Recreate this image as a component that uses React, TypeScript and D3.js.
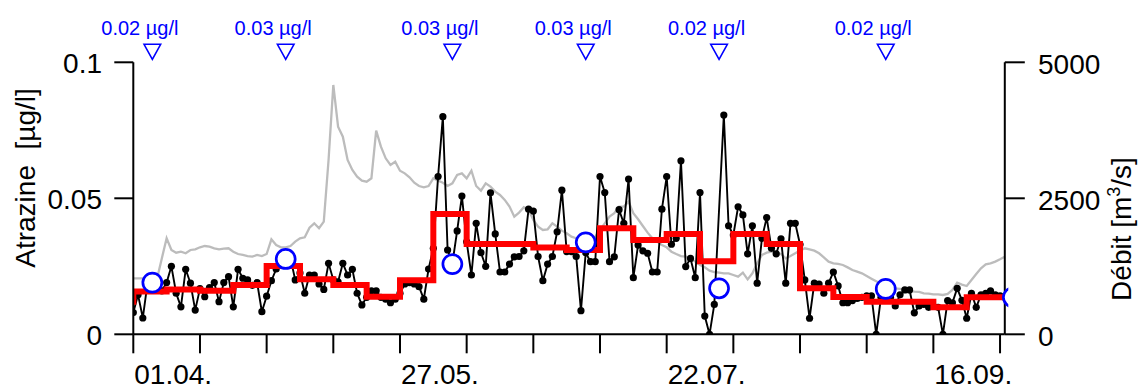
import React from "react";
import * as d3 from "d3";

// Daily atrazine concentration [µg/l], day 0 = 01.04. (null = no sample)
const atrazineDaily: (number | null)[] = [
  0.008, 0.0145, 0.006, 0.019, 0.021, 0.02, 0.016, 0.019, 0.025, 0.0151,
  0.0101, 0.0239, 0.0188, 0.0089, 0.0168, 0.0138, 0.0172, 0.019, 0.012, 0.019,
  0.0212, 0.0101, 0.0239, 0.0206, 0.02, 0.018, 0.019, 0.0083, 0.014, 0.0197,
  0.024, 0.028, 0.03, 0.028, 0.02, 0.0225, 0.0151, 0.0218, 0.0218, 0.0185,
  0.0165, 0.0261, 0.02, 0.0193, 0.0261, 0.0218, 0.0239, 0.0151, 0.0108, 0.0136,
  0.016, 0.016, 0.0136, 0.0129, 0.0116, 0.0129, 0.0151, 0.0185, 0.019, 0.0185,
  0.0175, 0.0129, 0.024, 0.0316, 0.058, 0.08, 0.031, 0.026, 0.038, 0.0508,
  0.034, 0.0218, 0.0408, 0.03, 0.025, 0.052, 0.0369, 0.0229, 0.0229, 0.0258,
  0.0285, 0.0286, 0.0307, 0.046, 0.0453, 0.0286, 0.0197, 0.0258, 0.0286, 0.0377,
  0.053, 0.0304, 0.0304, 0.0286, 0.0087, 0.03, 0.0267, 0.0267, 0.058, 0.0521,
  0.0267, 0.0285, 0.0458, 0.0408, 0.0571, 0.0208, 0.0328, 0.0307, 0.0298, 0.0229,
  0.0229, 0.046, 0.058, 0.0331, 0.0353, 0.0638, 0.0249, 0.0279, 0.0208, 0.0521,
  0.0067, 0.0, 0.011, null, 0.0806, 0.0399, 0.0365, 0.0469, 0.0439, 0.0296,
  0.0399, 0.0188, 0.0353, 0.0429, 0.0316, 0.0296, 0.0351, 0.0188, 0.0408, 0.0408,
  0.033, 0.02, 0.0059, 0.0188, 0.0185, 0.0151, 0.0188, 0.0229, 0.0178, 0.0116,
  0.0116, 0.0124, 0.0132, 0.0136, 0.0141, 0.0141, 0.0, 0.0136, 0.0145, 0.0136,
  0.0104, 0.0145, 0.0163, 0.0163, 0.0079, 0.0104, 0.011, 0.0099, 0.0104, 0.0099,
  0.0, 0.0124, 0.0116, 0.0169, 0.0125, 0.0059, 0.0151, 0.0099, 0.0145, 0.0151,
  0.016, 0.0145, 0.0141, 0.0136,
];

// Daily discharge [m3/s]
const dischargeDaily: number[] = [
  1029, 1029, 1029, 1029, 1029, 1029, 1400, 1765, 1550, 1500,
  1519, 1489, 1550, 1562, 1599, 1623, 1611, 1581, 1562, 1574,
  1581, 1519, 1476, 1458, 1439, 1427, 1458, 1439, 1476, 1746,
  1642, 1599, 1599, 1623, 1703, 1765, 1783, 1960, 2040, 1949,
  2070, 3204, 4583, 3816, 3633, 3204, 3020, 2898, 2824, 2806,
  2868, 3743, 3449, 3235, 3112, 3173, 3008, 2959, 2886, 2787,
  2726, 2702, 2726, 2868, 2824, 2787, 2726, 2775, 2928, 2959,
  2868, 3008, 2726, 2640, 2776, 2714, 2622, 2562, 2470, 2347,
  2163, 2237, 2335, 2286, 2102, 1979, 1918, 1930, 2040, 1979,
  1905, 1856, 1795, 1765, 1734, 1734, 1734, 1795, 1918, 2040,
  2163, 2225, 2347, 2347, 2439, 2225, 2114, 1991, 1869, 1765,
  1703, 1642, 1599, 1519, 1476, 1439, 1427, 1397, 1336, 1274,
  1231, 1170, 1145, 1133, 1121, 1121, 1090, 1059, 1133, 1010,
  1121, 1305, 1458, 1500, 1519, 1500, 1476, 1397, 1439, 1489,
  1538, 1581, 1562, 1538, 1489, 1415, 1336, 1305, 1293, 1274,
  1230, 1182, 1151, 1121, 1072, 1023, 974, 925, 888, 864,
  846, 833, 815, 803, 784, 778, 754, 748, 735, 735,
  723, 741, 815, 950, 913, 888, 999, 1109, 1213, 1286,
  1305, 1336, 1379, 1427,
];

// Weekly mean concentration; first value = week before 01.04., then weeks starting day 0, 7, 14 ...
const weeklyMeans: number[] = [
  0.012, 0.0157, 0.0165, 0.016, 0.0181, 0.0251, 0.0202, 0.0181, 0.0138, 0.0199,
  0.0442, 0.0332, 0.0332, 0.0319, 0.031, 0.039, 0.0347, 0.0369, 0.0269, 0.0369,
  0.0332, 0.0169, 0.0137, 0.012, 0.012, 0.0099, 0.0136, 0.0136,
];

// Composite samples
const sampleDays: number[] = [4, 32, 67, 95, 123, 158, 184.7];
const sampleValues: number[] = [0.019, 0.0277, 0.0258, 0.0338, 0.0169, 0.0167, 0.0136];
const sampleLabels: string[] = ["0.02 µg/l", "0.03 µg/l", "0.03 µg/l", "0.03 µg/l", "0.02 µg/l", "0.02 µg/l"];

const xTickDays: number[] = [0, 14, 28, 42, 56, 70, 84, 98, 112, 126, 140, 154, 168, 182];
const xLabelDays: number[] = [0, 56, 112, 168];
const xLabels: string[] = ["01.04.", "27.05.", "22.07.", "16.09."];
const leftTicks: number[] = [0, 0.05, 0.1];
const leftTickLabels: string[] = ["0", "0.05", "0.1"];
const rightTicks: number[] = [0, 2500, 5000];
const rightTickLabels: string[] = ["0", "2500", "5000"];

const W = 1139;
const H = 388;
const X0 = 133.3;
const X1 = 1004.8;
const Y0 = 334.3;
const Y1 = 62.3;
const FONT = "'Liberation Sans', Arial, Helvetica, sans-serif";
const BLUE = "#0000ff";

export default function App() {
  const x = d3.scaleLinear().domain([0, 183]).range([X0, X1]);
  const yL = d3.scaleLinear().domain([0, 0.1]).range([Y0, Y1]);
  const yR = d3.scaleLinear().domain([0, 5000]).range([Y0, Y1]);

  const qLine = d3
    .line<number>()
    .x((_, i) => x(i))
    .y((d) => yR(d))(dischargeDaily) as string;

  const atzPts = atrazineDaily
    .map((v, i) => ({ d: i, v }))
    .filter((p) => p.v !== null) as { d: number; v: number }[];
  const atzLine = d3
    .line<{ d: number; v: number }>()
    .x((p) => x(p.d))
    .y((p) => yL(p.v))(atzPts) as string;

  const stepPts = weeklyMeans.map((v, i) => ({ d: -7 + 7 * i, v }));
  stepPts.push({ d: -7 + 7 * weeklyMeans.length, v: weeklyMeans[weeklyMeans.length - 1] });
  const stepLine = d3
    .line<{ d: number; v: number }>()
    .curve(d3.curveStepAfter)
    .x((p) => x(p.d))
    .y((p) => yL(p.v))(stepPts) as string;

  return (
    <svg
      width={W}
      height={H}
      style={{ position: "absolute", left: 0, top: 0, background: "#fff" }}
      fontFamily={FONT}
    >
      <defs>
        <clipPath id="plot">
          <rect x={X0} y={Y1 - 5} width={X1 - X0 + 1} height={Y0 - Y1 + 5} />
        </clipPath>
        <clipPath id="circ">
          <rect x={X0} y={Y1 - 5} width={X1 - X0 + 3.5} height={Y0 - Y1 + 5} />
        </clipPath>
      </defs>

      {/* data */}
      <g clipPath="url(#plot)">
        <path d={qLine} fill="none" stroke="#bcbcbc" strokeWidth={2.3} />
        <path d={atzLine} fill="none" stroke="#000" strokeWidth={1.9} />
        {atzPts.map((p) => (
          <circle key={p.d} cx={x(p.d)} cy={yL(p.v)} r={3.6} fill="#000" />
        ))}
        <path d={stepLine} fill="none" stroke="#ff0000" strokeWidth={6} strokeLinejoin="miter" />
      </g>

      {/* axes */}
      <g stroke="#000" strokeWidth={2} fill="none">
        <line x1={X0} y1={Y1} x2={X0} y2={Y0} />
        <line x1={X1} y1={Y1} x2={X1} y2={Y0} />
        <line x1={X0} y1={Y0} x2={X1} y2={Y0} />
        {leftTicks.map((t) => (
          <line key={"l" + t} x1={X0 - 19} x2={X0} y1={yL(t)} y2={yL(t)} />
        ))}
        {rightTicks.map((t) => (
          <line key={"r" + t} x1={X1} x2={X1 + 20} y1={yR(t)} y2={yR(t)} />
        ))}
        {xTickDays.map((t) => (
          <line key={"x" + t} x1={x(t)} x2={x(t)} y1={Y0} y2={Y0 + 19} />
        ))}
      </g>

      <g fontSize={28} fill="#000">
        {leftTicks.map((t, i) => (
          <text key={"lt" + t} x={102} y={yL(t) + 11} textAnchor="end">
            {leftTickLabels[i]}
          </text>
        ))}
        {rightTicks.map((t, i) => (
          <text key={"rt" + t} x={1038} y={yR(t) + 11.5} textAnchor="start">
            {rightTickLabels[i]}
          </text>
        ))}
        {xLabelDays.map((t, i) => (
          <text key={"xl" + t} x={x(t) + 1} y={383.5} textAnchor="start">
            {xLabels[i]}
          </text>
        ))}
        <text
          transform="translate(35,178) rotate(-90)"
          textAnchor="middle"
          style={{ whiteSpace: "pre" }}
        >
          {"Atrazine  [µg/l]"}
        </text>
        <text transform="translate(1131,229) rotate(-90)" textAnchor="middle">
          Débit [m
          <tspan fontSize={18} dy={-11}>
            3
          </tspan>
          <tspan dy={11}>/s]</tspan>
        </text>
      </g>

      {/* composite samples */}
      <g clipPath="url(#circ)">
        {sampleDays.map((d, i) => (
          <circle
            key={"s" + i}
            cx={x(d)}
            cy={yL(sampleValues[i])}
            r={9.5}
            fill="#fff"
            stroke={BLUE}
            strokeWidth={2.7}
          />
        ))}
      </g>
      <g>
        {sampleLabels.map((lab, i) => {
          const cx = x(sampleDays[i]);
          const tri = d3.path();
          tri.moveTo(cx - 8.3, 44.3);
          tri.lineTo(cx + 8.3, 44.3);
          tri.lineTo(cx, 59.3);
          tri.closePath();
          return (
            <g key={"lab" + i}>
              <text x={cx - 12.5} y={35} fontSize={20} fill={BLUE} textAnchor="middle">
                {lab}
              </text>
              <path d={tri.toString()} fill="none" stroke={BLUE} strokeWidth={1.6} />
            </g>
          );
        })}
      </g>
    </svg>
  );
}
